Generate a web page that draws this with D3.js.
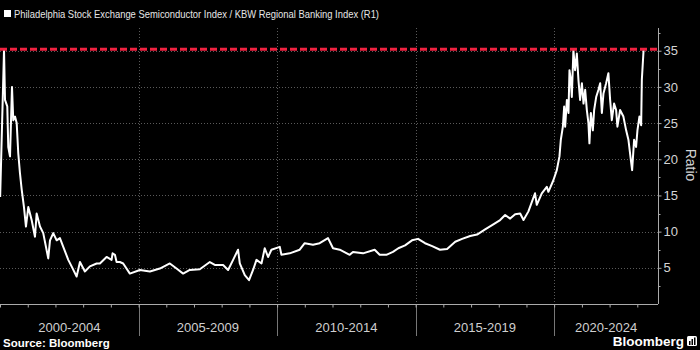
<!DOCTYPE html>
<html>
<head>
<meta charset="utf-8">
<script src="https://cdn.jsdelivr.net/npm/d3@7"></script>
<style>
  html, body { margin: 0; padding: 0; background: #000; }
  svg { display: block; font-family: "Liberation Sans", Arial, sans-serif; }
</style>
</head>
<body>
<svg id="chart" width="700" height="350"></svg>
<script>
// SOX / KBW Regional Banking ratio, sampled observations
const dates = [
  "2000-01-03","2000-02-23","2000-03-07","2000-04-06","2000-04-19","2000-05-12","2000-06-07","2000-06-24",
  "2000-07-17","2000-08-08","2000-08-29","2000-09-20","2000-10-13","2000-11-12","2000-12-08","2001-01-08",
  "2001-02-21","2001-04-06","2001-04-28","2001-06-11","2001-07-24","2001-09-28","2001-10-21","2001-12-03",
  "2002-01-17","2002-03-01","2002-04-14","2002-06-19","2002-08-02","2002-10-07","2002-11-20","2003-01-24",
  "2003-03-31","2003-06-28","2003-08-10","2003-11-06","2004-01-11","2004-01-24","2004-02-24","2004-03-17",
  "2004-04-29","2004-06-12","2004-09-08","2005-01-18","2005-05-30","2005-10-08","2006-02-17","2006-05-16",
  "2006-08-11","2006-11-07","2007-03-19","2007-07-29","2007-10-03","2008-01-20","2008-03-26","2008-05-31",
  "2008-08-04","2008-08-27","2008-11-01","2008-12-27","2009-02-18","2009-04-04","2009-06-09","2009-07-22",
  "2009-09-04","2009-10-18","2010-02-05","2010-02-27","2010-06-16","2010-10-26","2010-12-31","2011-04-19",
  "2011-07-16","2011-11-03","2012-01-08","2012-04-05","2012-08-15","2012-09-27","2013-02-06","2013-07-10",
  "2013-09-14","2013-12-11","2014-03-08","2014-05-18","2014-08-15","2014-11-14","2015-02-02","2015-05-05",
  "2015-08-07","2015-11-18","2016-02-20","2016-06-06","2016-09-05","2016-12-20","2017-03-21","2017-07-05",
  "2017-10-05","2018-01-19","2018-03-26","2018-05-31","2018-08-05","2018-10-10","2018-11-23","2019-01-27",
  "2019-04-24","2019-05-17","2019-07-22","2019-09-26","2019-10-17","2019-12-22","2020-02-05","2020-03-11",
  "2020-03-29","2020-04-25","2020-05-12","2020-05-25","2020-06-17","2020-07-08","2020-07-21","2020-08-08",
  "2020-08-21","2020-09-11","2020-10-03","2020-10-26","2020-11-16","2020-12-08","2021-01-01","2021-01-22",
  "2021-02-13","2021-03-07","2021-03-28","2021-04-10","2021-04-29","2021-05-25","2021-06-11","2021-07-08",
  "2021-08-07","2021-08-30","2021-09-21","2021-10-12","2021-11-16","2021-12-16","2022-01-08","2022-01-30",
  "2022-03-01","2022-03-28","2022-04-14","2022-05-19","2022-07-02","2022-08-07","2022-09-06","2022-10-08",
  "2022-10-25","2022-11-20","2022-12-16","2023-01-03","2023-01-29","2023-02-21","2023-03-02","2023-03-25"
];
const ratio = [
  14.8,35.1,28.2,27.3,21.7,20.4,30.0,25.4,
  25.9,25.0,20.8,18.1,15.8,13.4,10.7,13.4,
  11.6,9.3,12.5,10.7,9.8,6.3,8.8,9.8,
  8.8,9.1,7.9,6.1,5.2,3.8,5.8,4.5,
  5.2,5.6,5.6,6.5,6.1,7.0,6.8,5.8,
  5.8,5.6,4.2,4.7,4.5,4.9,5.6,4.9,
  4.2,4.7,4.8,5.8,5.4,5.4,4.7,6.1,
  7.5,5.6,4.0,3.3,4.7,6.1,5.6,7.7,
  6.5,7.5,7.9,6.8,7.0,7.5,8.4,8.2,
  8.4,9.1,7.7,7.5,6.8,7.2,7.0,7.5,
  6.8,6.8,7.2,7.7,8.1,8.8,9.0,8.4,
  8.0,7.5,7.6,8.6,9.0,9.4,9.6,10.3,
  10.9,11.6,12.3,11.8,12.4,12.5,11.6,12.8,
  15.3,13.7,15.3,16.2,15.5,17.1,18.5,20.4,
  22.7,24.5,27.3,24.5,28.2,26.4,32.3,31.0,
  28.6,35.1,32.3,34.6,31.0,28.2,30.5,27.7,
  29.6,26.8,25.0,22.2,26.4,24.0,26.8,28.6,
  29.6,30.5,26.4,29.1,30.5,31.9,28.2,25.4,
  27.7,26.8,24.5,26.8,25.9,24.0,22.7,19.9,
  18.5,22.7,21.7,24.0,25.9,24.7,31.0,35.1
];

const yTicks = [5, 10, 15, 20, 25, 30, 35];
const yMinorTicks = [2.5, 7.5, 12.5, 17.5, 22.5, 27.5, 32.5, 37.5];
const periodStarts = ["2000-01-01", "2005-01-01", "2010-01-01", "2015-01-01", "2020-01-01"];
const periodLabels = ["2000-2004", "2005-2009", "2010-2014", "2015-2019", "2020-2024"];
const peakLevel = 35.2;
const legendText = "Philadelphia Stock Exchange Semiconductor Index / KBW Regional Banking Index (R1)";
const yAxisTitle = "Ratio";
const sourceText = "Source: Bloomberg";

const parse = d3.utcParse("%Y-%m-%d");
const series = dates.map((d, i) => ({ date: parse(d), value: ratio[i] }));

const plot = { left: 0, right: 658, top: 28, bottom: 304 };
const svg = d3.select("#chart");
svg.append("rect").attr("width", 700).attr("height", 350).attr("fill", "#000");

const x = d3.scaleUtc()
  .domain([parse("2000-01-01"), parse("2023-10-01")])
  .range([plot.left, plot.right]);
const y = d3.scaleLinear()
  .domain([0, 38.14])
  .range([plot.bottom, plot.top]);

// horizontal grid
svg.append("g").selectAll("line").data(yTicks).join("line")
  .attr("x1", plot.left).attr("x2", plot.right)
  .attr("y1", d => Math.round(y(d)) + 0.5).attr("y2", d => Math.round(y(d)) + 0.5)
  .attr("stroke", "#5a5a5a").attr("stroke-width", 1)
  .attr("stroke-dasharray", "1,2");

// vertical grid at period boundaries
const boundaries = periodStarts.slice(1).map(parse);
svg.append("g").selectAll("line").data(boundaries).join("line")
  .attr("x1", d => Math.round(x(d)) + 0.5).attr("x2", d => Math.round(x(d)) + 0.5)
  .attr("y1", plot.top).attr("y2", plot.bottom)
  .attr("stroke", "#5a5a5a").attr("stroke-width", 1)
  .attr("stroke-dasharray", "1,2");

// separators below the axis
svg.append("g").selectAll("line").data(boundaries).join("line")
  .attr("x1", d => Math.round(x(d)) + 0.5).attr("x2", d => Math.round(x(d)) + 0.5)
  .attr("y1", plot.bottom).attr("y2", 336)
  .attr("stroke", "#777").attr("stroke-width", 1);

// bottom axis with yearly ticks
const xAxis = d3.axisBottom(x)
  .ticks(d3.utcYear.every(1))
  .tickSize(3)
  .tickFormat("");
const gx = svg.append("g").attr("transform", `translate(0,${plot.bottom + 0.5})`).call(xAxis);
gx.select(".domain").attr("stroke", "#aaa").attr("d", `M${plot.left},0H${plot.right}`);
gx.selectAll(".tick line").attr("stroke", "#aaa");

// period labels
const periodBounds = periodStarts.map(parse).map(d => Math.max(plot.left, x(d)));
svg.append("g").selectAll("text").data(periodLabels).join("text")
  .attr("x", (d, i) => (periodBounds[i] + (i + 1 < periodBounds.length ? periodBounds[i + 1] : plot.right)) / 2)
  .attr("y", 332)
  .attr("text-anchor", "middle")
  .attr("fill", "#cfcfcf")
  .attr("font-size", 13)
  .text(d => d);

// right axis
const yAxis = d3.axisRight(y).tickValues(yTicks).tickSize(3).tickPadding(2).tickFormat(d3.format("d"));
const gy = svg.append("g").attr("transform", `translate(${plot.right + 0.5},0)`).call(yAxis);
gy.select(".domain").attr("stroke", "#aaa").attr("d", `M0,${plot.top}V${plot.bottom}`);
gy.selectAll(".tick line").attr("stroke", "#aaa");
gy.selectAll(".tick text").attr("fill", "#d4d4d4").attr("font-size", 13)
  .attr("font-family", "'Liberation Sans', Arial, sans-serif");
svg.append("g").attr("transform", `translate(${plot.right + 0.5},0)`)
  .selectAll("line").data(yMinorTicks).join("line")
  .attr("x1", 0).attr("x2", 2)
  .attr("y1", d => Math.round(y(d)) + 0.5).attr("y2", d => Math.round(y(d)) + 0.5)
  .attr("stroke", "#aaa");

svg.append("text")
  .attr("transform", `translate(686,165) rotate(90)`)
  .attr("text-anchor", "middle")
  .attr("fill", "#d4d4d4")
  .attr("font-size", 14)
  .text(yAxisTitle);

// ratio line
const line = d3.line().x(d => x(d.date)).y(d => y(d.value));
svg.append("path")
  .datum(series)
  .attr("fill", "none")
  .attr("stroke", "#fff")
  .attr("stroke-width", 2)
  .attr("stroke-linejoin", "round")
  .attr("d", line);

// peak level marker
svg.append("line")
  .attr("x1", plot.left).attr("x2", plot.right)
  .attr("y1", y(peakLevel)).attr("y2", y(peakLevel))
  .attr("stroke", "#ee2240").attr("stroke-width", 3)
  .attr("stroke-dasharray", "7,3");

// legend
svg.append("rect").attr("x", 4).attr("y", 10).attr("width", 7).attr("height", 7).attr("fill", "#fff");
svg.append("text").attr("x", 14).attr("y", 17.5)
  .attr("fill", "#e6e6e6").attr("font-size", 11)
  .attr("textLength", 365).attr("lengthAdjust", "spacingAndGlyphs")
  .text(legendText);

// footer
svg.append("text").attr("x", 3).attr("y", 347)
  .attr("fill", "#fff").attr("font-size", 11.5).attr("font-weight", "bold")
  .text(sourceText);
svg.append("text").attr("x", 684).attr("y", 346)
  .attr("text-anchor", "end")
  .attr("fill", "#fff").attr("font-size", 13.5).attr("font-weight", "bold")
  .text("Bloomberg");
const logo = svg.append("g").attr("transform", "translate(687,336)");
logo.append("rect").attr("width", 10).attr("height", 10).attr("rx", 1.5).attr("fill", "#fff");
[[2, 5], [4.5, 3], [7, 1.5]].forEach(([bx, by]) =>
  logo.append("rect").attr("x", bx).attr("y", by).attr("width", 1.5).attr("height", 9 - by).attr("fill", "#000"));
</script>
</body>
</html>
